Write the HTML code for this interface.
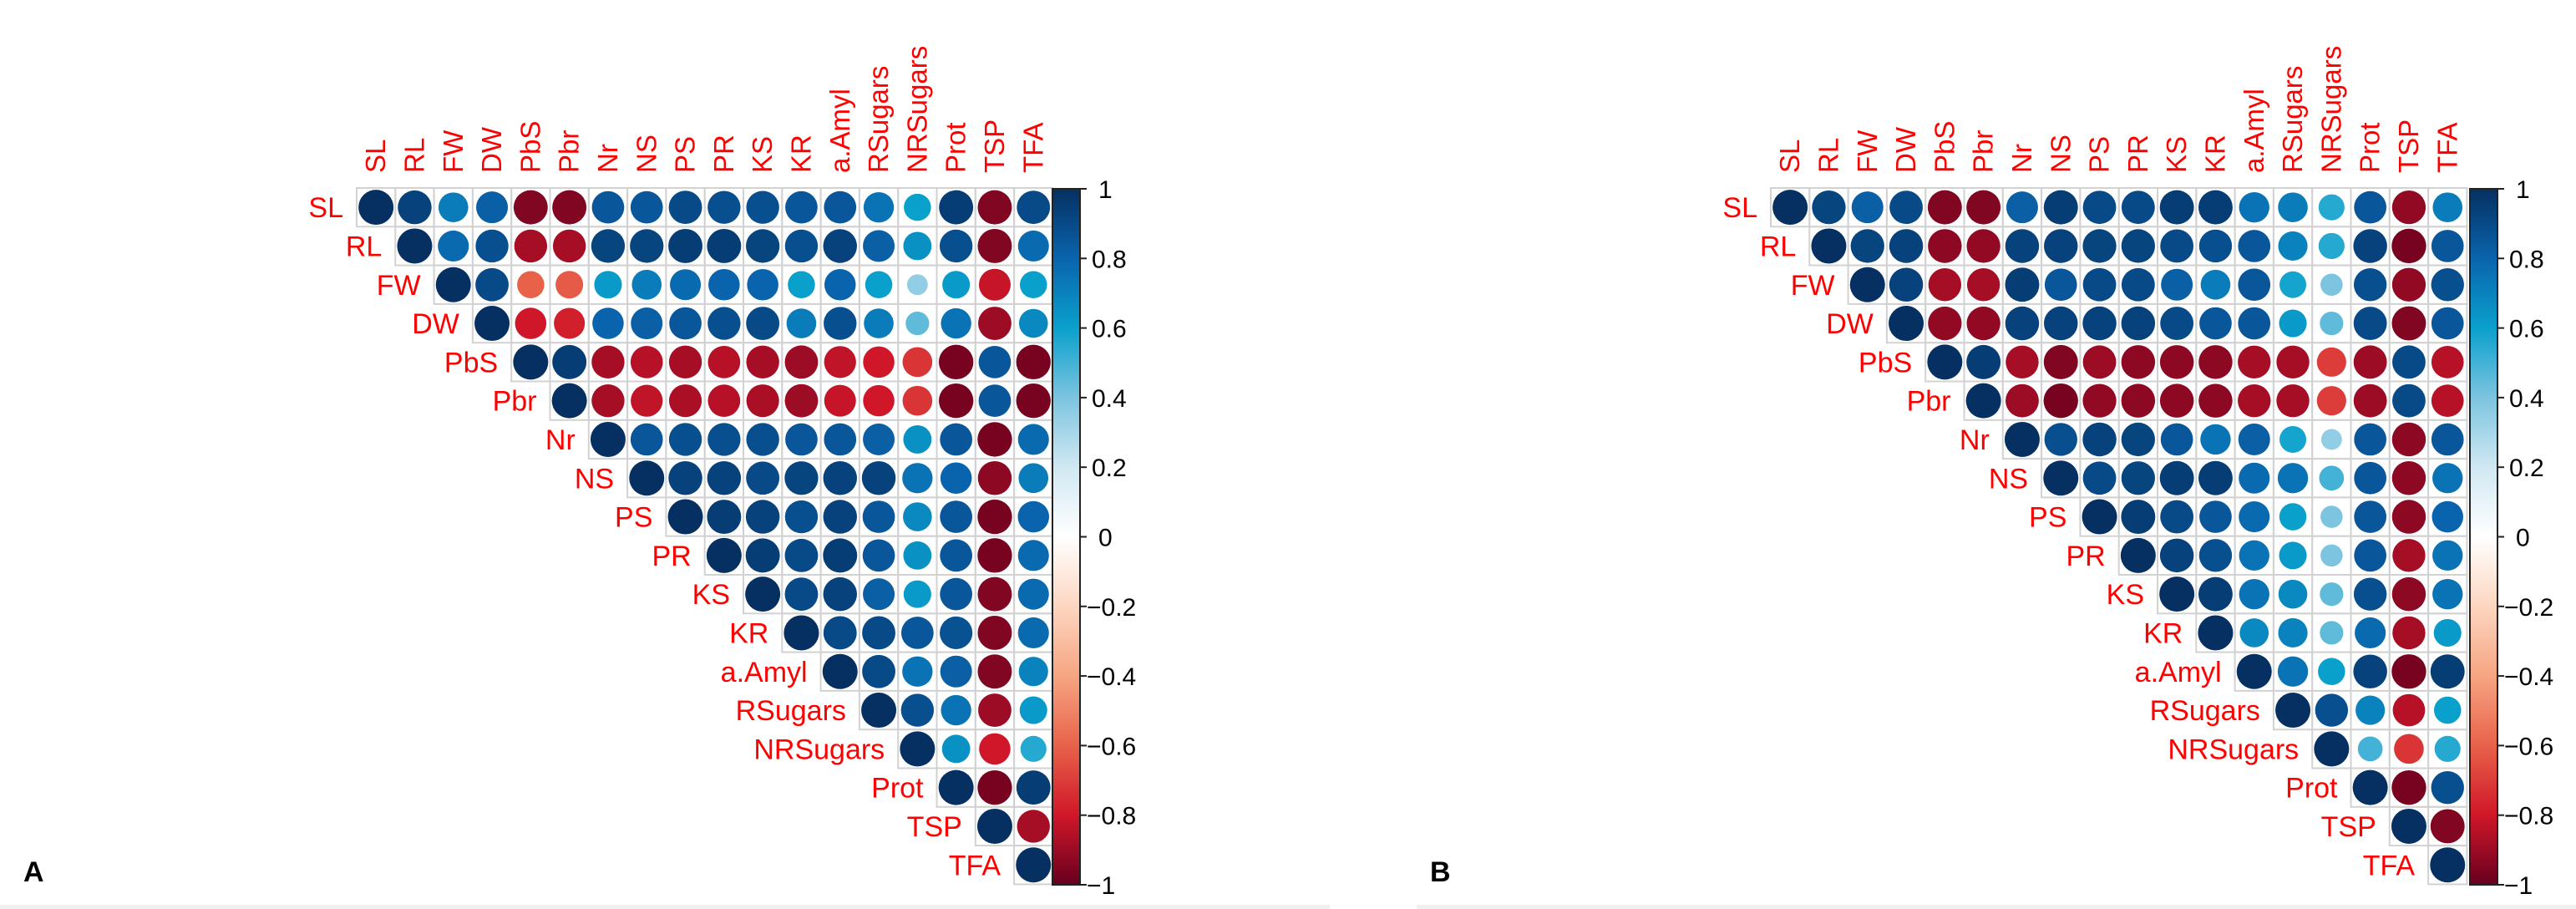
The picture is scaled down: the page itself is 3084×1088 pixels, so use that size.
<!DOCTYPE html>
<html><head><meta charset="utf-8"><style>
html,body{margin:0;padding:0;background:#fff;}
svg{display:block;}
text{font-family:"Liberation Sans",Arial,sans-serif;}
</style></head><body>
<svg id="chart" width="3084" height="1088" viewBox="0 0 3084 1088" xmlns="http://www.w3.org/2000/svg">
<rect x="0" y="0" width="3084" height="1088" fill="#fff"/>
<rect x="0" y="1083" width="1592" height="5" fill="#efefef"/>
<rect x="1696" y="1083" width="1388" height="5" fill="#efefef"/>
<text x="28" y="1055" font-family="Liberation Serif" font-weight="bold" font-size="34" fill="#000">A</text>
<text x="1712" y="1055" font-family="Liberation Serif" font-weight="bold" font-size="34" fill="#000">B</text>
</svg>
<script>
const variables = ["SL","RL","FW","DW","PbS","Pbr","Nr","NS","PS","PR","KS","KR","a.Amyl","RSugars","NRSugars","Prot","TSP","TFA"];
const colorbarTicks = [1,0.8,0.6,0.4,0.2,0,-0.2,-0.4,-0.6,-0.8,-1];
const colorbarTickLabels = ["1","0.8","0.6","0.4","0.2","0","\u22120.2","\u22120.4","\u22120.6","\u22120.8","\u22121"];
// upper-triangle rows (starting at diagonal)
const corrA = [
[1,.93,.72,.82,-.95,-.95,.85,.85,.9,.88,.88,.85,.85,.75,.6,.95,-.95,.9],
[1,.78,.88,-.88,-.88,.92,.92,.95,.95,.92,.88,.93,.82,.65,.88,-.95,.78],
[1,.9,-.6,-.62,.62,.72,.78,.8,.8,.6,.8,.6,.35,.62,-.82,.6],
[1,-.8,-.78,.8,.82,.85,.88,.9,.72,.88,.72,.45,.75,-.9,.68],
[1,.95,-.88,-.85,-.88,-.85,-.88,-.9,-.83,-.8,-.72,-.97,.85,-.97],
[1,-.88,-.83,-.87,-.85,-.87,-.9,-.82,-.8,-.72,-.97,.85,-.97],
[1,.85,.88,.88,.88,.85,.85,.82,.65,.85,-.97,.78],
[1,.93,.93,.9,.92,.93,.93,.75,.8,-.93,.72],
[1,.95,.93,.88,.93,.85,.68,.85,-.97,.8],
[1,.95,.9,.95,.85,.65,.85,-.97,.78],
[1,.9,.93,.82,.62,.85,-.95,.78],
[1,.9,.9,.85,.87,-.95,.78],
[1,.9,.75,.82,-.95,.7],
[1,.88,.75,-.9,.62],
[1,.65,-.8,.55],
[1,-.97,.95],
[1,-.88],
[1]
];
const corrB = [
[1,.92,.82,.9,-.95,-.95,.82,.95,.9,.9,.95,.95,.75,.72,.55,.85,-.92,.72],
[1,.92,.93,-.93,-.92,.93,.93,.92,.92,.9,.88,.85,.7,.55,.93,-.97,.85],
[1,.93,-.88,-.88,.95,.85,.9,.9,.82,.72,.85,.58,.4,.88,-.92,.88],
[1,-.92,-.92,.93,.93,.93,.93,.9,.85,.85,.62,.45,.9,-.95,.85],
[1,.95,-.88,-.95,-.9,-.93,-.93,-.93,-.88,-.88,-.7,-.9,.9,-.85],
[1,-.9,-.97,-.92,-.93,-.93,-.93,-.88,-.88,-.7,-.9,.9,-.85],
[1,.88,.93,.92,.85,.75,.82,.58,.35,.85,-.93,.85],
[1,.9,.92,.95,.95,.78,.75,.5,.85,-.93,.75],
[1,.95,.9,.85,.78,.6,.4,.85,-.93,.8],
[1,.93,.88,.75,.62,.4,.85,-.88,.75],
[1,.95,.75,.68,.45,.88,-.93,.75],
[1,.68,.7,.45,.78,-.88,.62],
[1,.75,.6,.93,-.97,.95],
[1,.88,.7,-.85,.6],
[1,.5,-.72,.55],
[1,-.97,.88],
[1,-.95],
[1]
];
const stopVals = [-1,-0.8,-0.6,-0.4,-0.2,0,0.2,0.4,0.6,0.8,1];
const stopCols = ["#67001f","#d01729","#e8624a","#f6a582","#fcd6c0","#ffffff","#d0e8f2","#7cc4df","#0aa0cc","#0a64ad","#053061"];

const NS="http://www.w3.org/2000/svg";
const svg=document.getElementById('chart');
function hex(c){return [1,3,5].map(i=>parseInt(c.substr(i,2),16));}
function colorFor(v){
  for(let i=0;i<stopVals.length-1;i++){
    if(v<=stopVals[i+1]){const t=(v-stopVals[i])/(stopVals[i+1]-stopVals[i]);
      const a=hex(stopCols[i]),b=hex(stopCols[i+1]);
      return 'rgb('+a.map((x,k)=>Math.round(x+(b[k]-x)*t)).join(',')+')';}
  }
  return stopCols[stopCols.length-1];
}
function mk(tag,attrs,parent){const e=document.createElementNS(NS,tag);for(const k in attrs)e.setAttribute(k,attrs[k]);(parent||svg).appendChild(e);return e;}

function panel(id,left,corr,cbX){
  const top=225, cell=46.3, n=variables.length, rmax=21;
  const g=mk('g',{});
  
  
  const xPos=j=>left+j*cell, yPos=i=>top+i*cell;
  variables.forEach((v,j)=>{
    const cx=xPos(j)+cell/2+11;
    const t=mk('text',{x:cx,y:207,transform:'rotate(-90 '+cx+' 207)','font-size':33,fill:'#ff0000'},g);
    t.textContent=v;
    
    
  });
  corr.forEach((row,i)=>{
    const lt=mk('text',{x:xPos(i)-16,y:yPos(i)+cell/2+12,'font-size':34,fill:'#ff0000','text-anchor':'end'},g);
    lt.textContent=variables[i];
    
    
    row.forEach((val,k)=>{
      const j=i+k;
      const r=mk('rect',{x:xPos(j),y:yPos(i),width:cell,height:cell,fill:'none',stroke:'#d2d2d2','stroke-width':2},g);
      
      
      const c=mk('circle',{cx:xPos(j)+cell/2,cy:yPos(i)+cell/2,r:Math.sqrt(Math.abs(val))*rmax,fill:colorFor(val)},g);
      
      
    });
  });
  const cbTop=226, cbBot=1059, cbW=33;
  const gradId='grad'+id;
  const defs=mk('defs',{},g);
  const lg=mk('linearGradient',{id:gradId,x1:0,y1:1,x2:0,y2:0},defs);
  stopVals.forEach((s,k)=>mk('stop',{offset:((s+1)/2),'stop-color':stopCols[k]},lg));
  const bar=mk('rect',{x:cbX,y:cbTop,width:cbW,height:cbBot-cbTop,fill:'url(#'+gradId+')',stroke:'#222','stroke-width':2},g);
  
  
  const yv=v=>cbBot-(v+1)/2*(cbBot-cbTop);
  colorbarTicks.forEach((v,k)=>{
    mk('line',{x1:cbX+cbW,x2:cbX+cbW+8,y1:yv(v),y2:yv(v),stroke:'#222','stroke-width':2},g);
    const t=mk('text',{x:cbX+cbW+(v<0?8:14)+(v===0||v===1?8:0),y:yv(v)+11,'font-size':30,fill:'#000'},g);
    t.textContent=colorbarTickLabels[k];
    
    
  });
}
panel('a',427,corrA,1260);
panel('b',2120,corrB,2957);
</script>
</body></html>
